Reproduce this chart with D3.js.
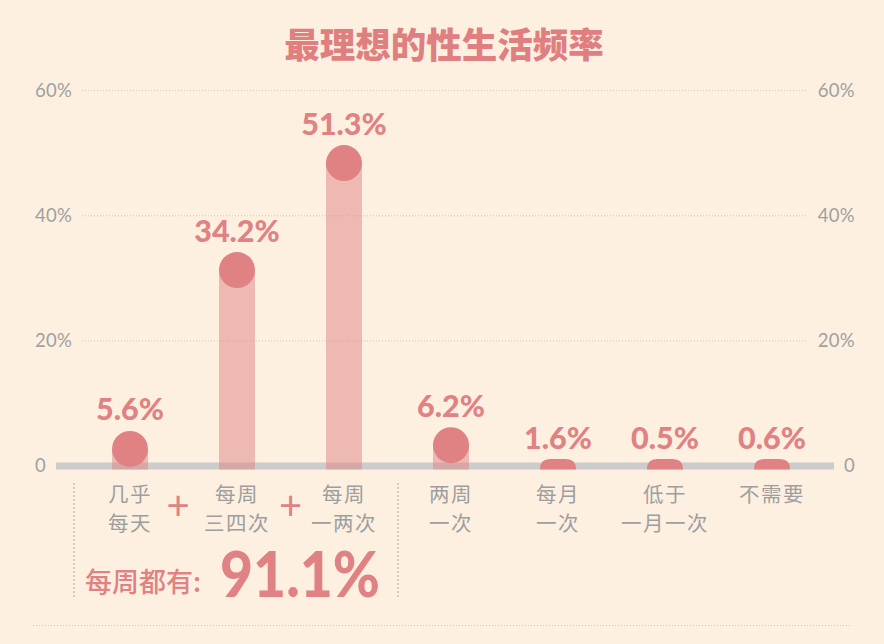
<!DOCTYPE html>
<html><head><meta charset="utf-8">
<script src="https://cdn.jsdelivr.net/npm/d3@7"></script>
<style>
html,body{margin:0;padding:0;background:#fdf0e1;}
svg{display:block;}
</style></head>
<body>
<svg id="chart" width="884" height="644"></svg>
<script>
const title = "最理想的性生活频率";
const categories = [["几乎","每天"],["每周","三四次"],["每周","一两次"],["两周","一次"],["每月","一次"],["低于","一月一次"],["不需要"]];
const values = [5.6, 34.2, 51.3, 6.2, 1.6, 0.5, 0.6];
const tickValues = [0, 20, 40, 60];
const summaryLabel = "每周都有:";
const summaryValue = "91.1%";

const pink = "#e08283", grey = "#a0a0a0", bg = "#fdf0e1";
const svg = d3.select("#chart");
svg.append("rect").attr("width",884).attr("height",644).attr("fill",bg);

const x = d3.scaleBand().domain(d3.range(categories.length)).range([76.5, 825.5]).padding(0);
const y = d3.scaleLinear().domain([0, 60]).range([466, 90.7]);
const barW = 36, r = 18, base = y(0);

// title
svg.append("text").attr("x", 444).attr("y", 58).attr("text-anchor","middle")
  .attr("font-family","'Noto Sans CJK SC'").attr("font-weight",900).attr("font-size",35.5)
  .attr("fill", "#e07f80").text(title);

// gridlines (dotted)
const gridTicks = tickValues.filter(d => d > 0);
svg.append("g").selectAll("line").data(gridTicks).join("line")
  .attr("x1", 82).attr("x2", 808).attr("y1", d => y(d)).attr("y2", d => y(d))
  .attr("stroke", "#c9c4bd").attr("stroke-width", 1).attr("stroke-dasharray","1,2");

// left / right axes via d3 axis
const fmt = d => d === 0 ? "0" : d + "%";
const leftAxis = svg.append("g").attr("transform","translate(35,0)")
  .call(d3.axisRight(y).tickValues(tickValues).tickSize(0).tickPadding(0).tickFormat(fmt));
leftAxis.select(".domain").remove();
leftAxis.selectAll("text").attr("font-family","Lato").attr("font-weight",400).attr("font-size",18.5)
  .attr("letter-spacing",0.3).attr("fill",grey).attr("text-anchor","start");

const rightAxis = svg.append("g").attr("transform","translate(855,0)")
  .call(d3.axisLeft(y).tickValues(tickValues).tickSize(0).tickPadding(0).tickFormat(fmt));
rightAxis.select(".domain").remove();
rightAxis.selectAll("text").attr("font-family","Lato").attr("font-weight",400).attr("font-size",18.5)
  .attr("letter-spacing",0.3).attr("fill",grey).attr("text-anchor","end");

// baseline
svg.append("rect").attr("x", 56).attr("y", base - 3.5).attr("width", 834 - 56).attr("height", 7).attr("fill", "#cccccc");

// bars
const g = svg.append("g");
values.forEach((v, i) => {
  const cx = x(i) + x.bandwidth()/2;
  const bottom = base + 3.5;
  let top;
  if (base - y(v) < 12) {
    // tiny value: flat cap with rounded top corners
    top = base - 7;
    const cr = 10, x0 = cx - barW/2, x1 = cx + barW/2;
    g.append("path").attr("fill", pink).attr("d",
      `M${x0},${bottom} L${x0},${top + cr} Q${x0},${top} ${x0 + cr},${top} L${x1 - cr},${top} Q${x1},${top} ${x1},${top + cr} L${x1},${bottom} Z`);
  } else {
    top = y(v);
    g.append("rect").attr("x", cx - barW/2).attr("y", top + r).attr("width", barW)
      .attr("height", Math.max(0, bottom - (top + r))).attr("fill", pink).attr("fill-opacity", 0.5);
    g.append("circle").attr("cx", cx).attr("cy", top + r).attr("r", r).attr("fill", pink);
  }
  g.append("text").attr("x", cx).attr("y", top - 10.5).attr("text-anchor","middle")
    .attr("font-family","Lato").attr("font-weight",900).attr("font-size",30.5).attr("fill", pink)
    .text(v.toFixed(1) + "%");
});

// category labels
const lab = svg.append("g");
const labelNodes = [];
categories.forEach((lines, i) => {
  const cx = x(i) + x.bandwidth()/2;
  const grp = lab.append("g");
  lines.forEach((s, k) => grp.append("text").attr("x", cx).attr("y", 501.5 + k * 29)
    .attr("text-anchor","middle")
    .attr("font-family","'Noto Sans CJK SC'").attr("font-weight",400).attr("font-size",20.5)
    .attr("letter-spacing",1.5).attr("fill", "#9e9e9e").text(s));
  labelNodes.push(grp.node());
});

// plus signs between the first three categories (centred between neighbouring labels)
[0, 1].forEach(i => {
  const a = labelNodes[i].getBBox(), b = labelNodes[i + 1].getBBox();
  const px = (a.x + a.width + b.x) / 2;
  svg.append("text").attr("x", px).attr("y", 520).attr("text-anchor","middle")
    .attr("font-family","Lato").attr("font-weight",400).attr("font-size",40).attr("fill", pink).text("+");
});

// dotted separators
[74, 398].forEach(xx => {
  svg.append("line").attr("x1", xx).attr("x2", xx).attr("y1", 483).attr("y2", 598)
    .attr("stroke", "#a8a8a8").attr("stroke-width", 1).attr("stroke-dasharray","2,2");
});

// summary
svg.append("text").attr("x", 85).attr("y", 592)
  .attr("font-family","'Noto Sans CJK SC'").attr("font-weight",500).attr("font-size",27).attr("fill", pink)
  .text(summaryLabel);
svg.append("text").attr("x", 220).attr("y", 597)
  .attr("font-family","Lato").attr("font-weight",900).attr("font-size",62).attr("fill", pink)
  .attr("textLength", 160).attr("lengthAdjust","spacingAndGlyphs")
  .text(summaryValue);

// bottom dotted line
svg.append("line").attr("x1", 33).attr("x2", 851).attr("y1", 625.5).attr("y2", 625.5)
  .attr("stroke", "#c9c4bd").attr("stroke-width", 1).attr("stroke-dasharray","1,2");
</script>
</body></html>
